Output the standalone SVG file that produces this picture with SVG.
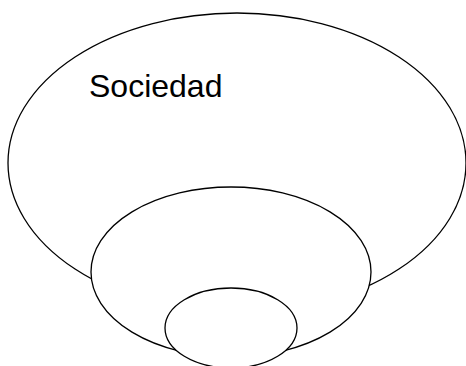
<svg xmlns="http://www.w3.org/2000/svg" width="466" height="366" viewBox="0 0 466 366">
<style>
.e{fill:#fff;stroke:#000;stroke-width:1.3}
.t{font-family:"Liberation Sans",Arial,sans-serif;font-size:32px;fill:#000}
</style>
<rect width="466" height="366" fill="#fff"/>
<g id="sociedad">
<ellipse class="e" cx="237" cy="163" rx="229" ry="150"/>
<text class="t" x="89" y="97">Sociedad</text>
</g>
<g id="middle">
<ellipse class="e" cx="231" cy="272" rx="140" ry="85"/>
</g>
<g id="inner">
<ellipse class="e" cx="231" cy="328" rx="66" ry="40"/>
</g>
<g id="connectors"/>
</svg>
